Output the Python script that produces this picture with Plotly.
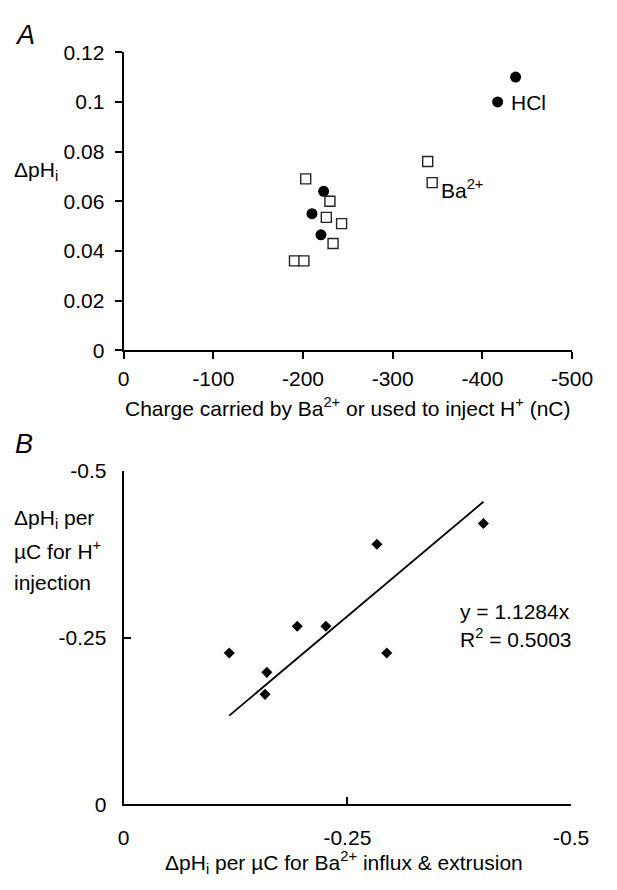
import plotly.graph_objects as go

# Panel A: pH change vs charge
hcl_charge = [-223, -210, -220, -437, -417]
hcl_dph = [0.064, 0.055, 0.0465, 0.110, 0.100]
ba_charge = [-203, -230, -226, -243, -233.5, -190.5, -201, -339, -344]
ba_dph = [0.069, 0.060, 0.0535, 0.051, 0.043, 0.036, 0.036, 0.076, 0.0675]
a_xticks = [0, -100, -200, -300, -400, -500]
a_xticklabels = ["0", "-100", "-200", "-300", "-400", "-500"]
a_yticks = [0, 0.02, 0.04, 0.06, 0.08, 0.1, 0.12]
a_yticklabels = ["0", "0.02", "0.04", "0.06", "0.08", "0.1", "0.12"]

# Panel B: pH change per µC, Ba2+ vs H+ injection
ba_per_uc = [-0.118, -0.160, -0.158, -0.194, -0.226, -0.283, -0.294, -0.402]
h_per_uc = [-0.227, -0.198, -0.165, -0.267, -0.267, -0.390, -0.227, -0.421]
slope = 1.1284
r_squared = 0.5003
b_ticks = [0, -0.25, -0.5]
b_ticklabels = ["0", "-0.25", "-0.5"]

FONT = "Liberation Sans, Arial, sans-serif"
fs = 21

fig = go.Figure()

fig.add_trace(go.Scatter(
    x=hcl_charge, y=hcl_dph, mode="markers", xaxis="x", yaxis="y",
    marker=dict(symbol="circle", size=11, color="black"), showlegend=False))
fig.add_trace(go.Scatter(
    x=ba_charge, y=ba_dph, mode="markers", xaxis="x", yaxis="y",
    marker=dict(symbol="square", size=10, color="white",
                line=dict(color="#222", width=1.4)), showlegend=False))

fig.add_trace(go.Scatter(
    x=ba_per_uc, y=h_per_uc, mode="markers", xaxis="x2", yaxis="y2",
    marker=dict(symbol="diamond", size=8.5, color="black"), showlegend=False))
x_fit = [max(ba_per_uc), min(ba_per_uc)]
y_fit = [slope * v for v in x_fit]
fig.add_trace(go.Scatter(
    x=x_fit, y=y_fit, mode="lines", xaxis="x2", yaxis="y2",
    line=dict(color="black", width=1.8), showlegend=False))

axis_common = dict(showgrid=False, zeroline=False, showline=True,
                   linecolor="black", linewidth=2, tickcolor="black",
                   tickwidth=2, ticklen=7, tickfont=dict(size=fs, color="black", family=FONT),
                   fixedrange=True)

fig.update_layout(
    width=617, height=890,
    margin=dict(l=0, r=0, t=0, b=0),
    paper_bgcolor="white", plot_bgcolor="white",
    font=dict(family=FONT, size=fs, color="black"),
    xaxis=dict(domain=[123 / 617, 592 / 617], range=[0, -500], anchor="y",
               tickmode="array", tickvals=a_xticks, ticktext=a_xticklabels,
               ticks="outside", ticklabelstandoff=1, **axis_common),
    yaxis=dict(domain=[1 - 347.3 / 890, 1 - 41.3 / 890], range=[0, 0.12], anchor="x",
               tickmode="array", tickvals=a_yticks, ticktext=a_yticklabels,
               ticks="outside", ticklabelstandoff=6, **axis_common),
    xaxis2=dict(domain=[123 / 617, 591 / 617], range=[0, -0.5], anchor="y2",
                tickmode="array", tickvals=b_ticks, ticktext=b_ticklabels,
                ticks="inside", ticklabelstandoff=13, **axis_common),
    yaxis2=dict(domain=[1 - 813.5 / 890, 1 - 471 / 890], range=[0, -0.5], anchor="x2",
                tickmode="array", tickvals=b_ticks, ticktext=b_ticklabels,
                ticks="inside", ticklabelstandoff=11, **axis_common),
)

def label(text, x, y, xanchor="center", size=fs, italic=False):
    fig.add_annotation(
        text=f"<i>{text}</i>" if italic else text,
        x=x / 617, y=1 - y / 890, xref="paper", yref="paper",
        xanchor=xanchor, yanchor="middle", showarrow=False,
        font=dict(size=size, family=FONT, color="black"))

label("A", 7, 24, xanchor="left", size=27, italic=True)
label("B", 7, 443, xanchor="left", size=27, italic=True)

label("ΔpH<sub>i</sub>", 6, 163, xanchor="left")
label("Charge carried by Ba<sup>2+</sup> or used to inject H<sup>+</sup> (nC)", 358, 405)
label("HCl", 526, 93, xanchor="left")
label("Ba<sup>2+</sup>", 453, 182, xanchor="left")

label("ΔpH<sub>i</sub> per", 6, 520, xanchor="left")
label("µC for H<sup>+</sup>", 6, 552, xanchor="left")
label("injection", 6, 586, xanchor="left")
label("ΔpH<sub>i</sub> per µC for Ba<sup>2+</sup> influx &amp; extrusion", 353, 873)
label(f"y = {slope:.4f}x", 473, 615, xanchor="left")
label(f"R<sup>2</sup> = {r_squared:.4f}", 473, 643, xanchor="left")

fig.write_html("out.html")
